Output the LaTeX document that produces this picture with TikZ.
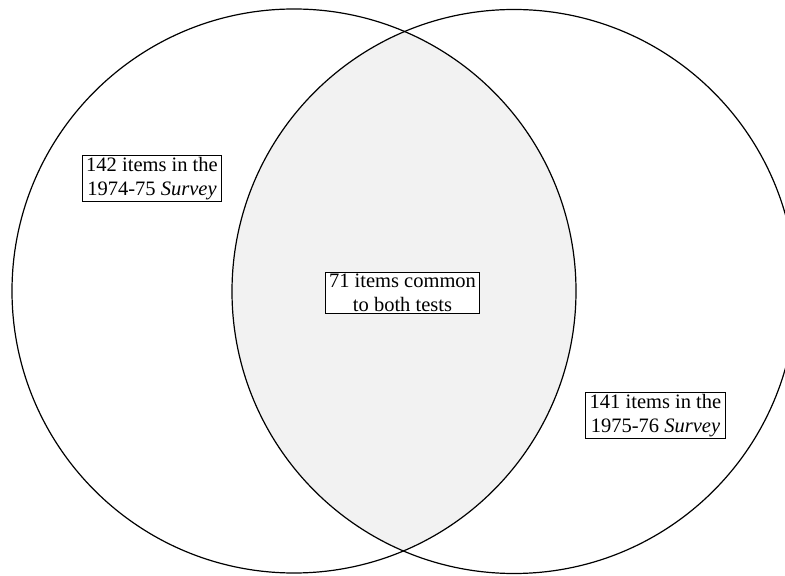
\documentclass[tikz,border=0pt]{standalone}
\usepackage{fontspec}
\setmainfont{Liberation Serif}
\usepackage{tikz}
\usetikzlibrary{positioning}

\begin{document}
\begin{tikzpicture}[
        x=1pt, y=1pt,
        set/.style={
            circle,
            draw,
            line width=1.2pt,
            minimum size=564pt,
            inner sep=0pt
        },
        label box/.style={
            rectangle,
            draw,
            line width=1pt,
            align=center,
            inner xsep=4pt,
            inner ysep=2pt,
            font=\fontsize{20.5}{23.5}\selectfont
        }
    ]

        \useasboundingbox (0,0) rectangle (785,576);

        % shaded overlap
        \begin{scope}
            \clip (294,285) circle (282);
            \fill[gray!10] (514,284.5) circle (282);
        \end{scope}

        \node[set] (first) at (294,285) {};
        \node[set] (second) at (514,284.5) {};

        \node[label box] (old) at (152,397.5) {142 items in the\\1974-75 \textit{Survey}};
        \node[label box, fill=white] (common) at (402.5,283) {71 items common\\to both tests};
        \node[label box] (new) at (655.5,160.5) {141 items in the\\1975-76 \textit{Survey}};

    \end{tikzpicture}
\end{document}
